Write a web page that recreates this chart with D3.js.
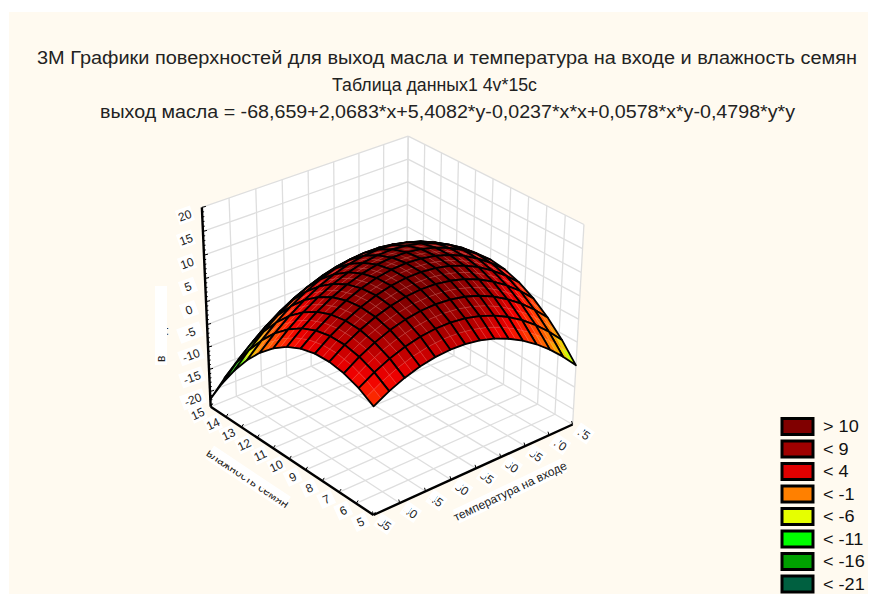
<!DOCTYPE html>
<html>
<head>
<meta charset="utf-8">
<script src="https://cdn.jsdelivr.net/npm/d3@7"></script>
<style>
body { margin: 0; background: #fff; }
text { font-family: "Liberation Sans", Arial, sans-serif; }
</style>
</head>
<body>
<div id="chart"></div>
<script>
var width = 870, height = 594;
var titleLines = ["3М Графики поверхностей для выход масла и температура на входе и влажность семян",
    "Таблица данных1 4v*15c",
    "выход масла = -68,659+2,0683*x+5,4082*y-0,0237*x*x+0,0578*x*y-0,4798*y*y"];
var titleWidths = [820, 205, 695];
var titleCenters = [447, 434.5, 447.5];
var tempTicks = [35, 40, 45, 50, 55, 60, 65, 70, 75];
var humTicks = [5, 6, 7, 8, 9, 10, 11, 12, 13, 14, 15];
var zTicks = [-20, -15, -10, -5, 0, 5, 10, 15, 20];
var legendLabels = ["> 10", "< 9", "< 4", "< -1", "< -6", "< -11", "< -16", "< -21"];
var legendColors = ["#800000", "#a00000", "#e00000", "#ff8000", "#e6ff00", "#00ff00", "#00a000", "#006040"];
// colours as they read on the surface itself
var surfaceLevels = [11, 7, 3, 0, -4, -8, -11, -16, -21];
var surfaceColors = ["#7c0000", "#a80000", "#f00000", "#ff3500", "#ff8000", "#e6ff00", "#00ff00", "#00a000", "#006040"];

// surface nodes: one row per humidity value, one column per temperature value
var tempGrid = [35, 37.86, 40.71, 43.57, 46.43, 49.29, 52.14, 55, 57.86, 60.71, 63.57, 66.43, 69.29, 72.14, 75];
var humGrid = [5, 5.83, 6.67, 7.5, 8.33, 9.17, 10, 10.83, 11.67, 12.5, 13.33, 14.17, 15];
var oilYield = [
    [-0.14, 1.67, 3.07, 4.11, 4.75, 5.00, 4.87, 4.35, 3.44, 2.15, 0.47, -1.61, -4.06, -6.90, -10.13],
    [1.72, 3.67, 5.21, 6.38, 7.16, 7.55, 7.55, 7.17, 6.40, 5.25, 3.71, 1.77, -0.55, -3.25, -6.34],
    [2.92, 5.00, 6.68, 7.99, 8.90, 9.43, 9.57, 9.33, 8.70, 7.68, 6.28, 4.48, 2.30, -0.26, -3.22],
    [3.44, 5.67, 7.48, 8.93, 9.98, 10.65, 10.93, 10.82, 10.33, 9.45, 8.18, 6.52, 4.48, 2.06, -0.77],
    [3.31, 5.67, 7.62, 9.21, 10.40, 11.20, 11.61, 11.65, 11.29, 10.55, 9.42, 7.90, 5.99, 3.71, 1.02],
    [2.50, 5.00, 7.09, 8.82, 10.14, 11.08, 11.63, 11.80, 11.59, 10.98, 9.99, 8.61, 6.84, 4.69, 2.14],
    [1.03, 3.67, 5.90, 7.76, 9.22, 10.30, 10.99, 11.30, 11.22, 10.75, 9.90, 8.65, 7.02, 5.01, 2.60],
    [-1.11, 1.67, 4.03, 6.03, 7.63, 8.85, 9.68, 10.12, 10.18, 9.85, 9.14, 8.03, 6.53, 4.66, 2.39],
    [-3.91, -1.00, 1.51, 3.64, 5.38, 6.74, 7.70, 8.28, 8.48, 8.28, 7.71, 6.74, 5.38, 3.65, 1.51],
    [-7.38, -4.33, -1.69, 0.59, 2.46, 3.95, 5.05, 5.78, 6.11, 6.05, 5.62, 4.78, 3.56, 1.97, -0.03],
    [-11.51, -8.33, -5.55, -3.14, -1.13, 0.51, 1.74, 2.60, 3.08, 3.15, 2.86, 2.16, 1.08, -0.38, -2.24],
    [-16.32, -12.99, -10.08, -7.53, -5.38, -3.61, -2.23, -1.24, -0.62, -0.41, -0.57, -1.13, -2.08, -3.39, -5.12],
    [-21.79, -18.32, -15.27, -12.58, -10.30, -8.39, -6.88, -5.74, -4.99, -4.64, -4.66, -5.08, -5.89, -7.07, -8.66]
];

var xMin = 35, xMax = 75, yMin = 5, yMax = 15, zMin = -23.5, zMax = 20;
var xScale = d3.scaleLinear().domain([xMin, xMax]).range([0, 1]);
var yScale = d3.scaleLinear().domain([yMin, yMax]).range([0, 1]);
var zScale = d3.scaleLinear().domain([zMin, zMax]).range([0, 1]);
var colorScale = d3.scaleLinear().domain(surfaceLevels).range(surfaceColors).clamp(true);

// box corners on screen, used to calibrate the camera
var calib = [[0,0,0,373,515],[1,0,0,573,424],[0,1,0,211,407],[1,1,0,406,328],[0,1,1,202,207],[1,0,1,584,225],[1,1,1,408,136]];

function solve(A, b) {
    var n = b.length, M = A.map((r, i) => r.concat(b[i]));
    for (var c = 0; c < n; c++) {
        var p = c;
        for (var r = c + 1; r < n; r++) if (Math.abs(M[r][c]) > Math.abs(M[p][c])) p = r;
        var t = M[c]; M[c] = M[p]; M[p] = t;
        for (r = 0; r < n; r++) if (r != c) {
            var f = M[r][c] / M[c][c];
            for (var k = c; k <= n; k++) M[r][k] -= f * M[c][k];
        }
    }
    return M.map((r, i) => r[n] / r[i]);
}
// least squares fit of the 11 projection terms
var rows = [], rhs = [];
calib.forEach(function(c) {
    var u = c[0], v = c[1], w = c[2], sx = c[3], sy = c[4];
    rows.push([u, v, w, 1, 0, 0, 0, 0, -sx*u, -sx*v, -sx*w]); rhs.push(sx);
    rows.push([0, 0, 0, 0, u, v, w, 1, -sy*u, -sy*v, -sy*w]); rhs.push(sy);
});
var ata = d3.range(11).map(i => d3.range(11).map(j => d3.sum(rows, r => r[i] * r[j])));
var atb = d3.range(11).map(i => d3.sum(rows, (r, k) => r[i] * rhs[k]));
var P = solve(ata, atb);
function project(u, v, w) {
    var d = P[8]*u + P[9]*v + P[10]*w + 1;
    return [(P[0]*u + P[1]*v + P[2]*w + P[3]) / d, (P[4]*u + P[5]*v + P[6]*w + P[7]) / d];
}
function pt(x, y, z) { return project(xScale(x), yScale(y), zScale(z)); }
function poly(pts) { return "M" + pts.map(p => p.join(",")).join("L") + "Z"; }

var svg = d3.select("#chart").append("svg").attr("width", width).attr("height", height).style("display", "block");
svg.append("rect").attr("x", 9).attr("y", 12).attr("width", 859).attr("height", 582).attr("fill", "#fffaf0");

// titles
svg.selectAll(".title").data(titleLines).enter().append("text").attr("class", "title")
    .attr("x", (d, i) => titleCenters[i]).attr("y", (d, i) => 63.5 + i * 27)
    .attr("text-anchor", "middle").attr("font-size", 17.5).attr("fill", "#222")
    .attr("textLength", (d, i) => titleWidths[i]).attr("lengthAdjust", "spacingAndGlyphs")
    .text(d => d);

// walls and floor
var box = svg.append("g");
[[[xMin,yMax,zMin],[xMax,yMax,zMin],[xMax,yMax,zMax],[xMin,yMax,zMax]],
 [[xMax,yMin,zMin],[xMax,yMax,zMin],[xMax,yMax,zMax],[xMax,yMin,zMax]],
 [[xMin,yMin,zMin],[xMax,yMin,zMin],[xMax,yMax,zMin],[xMin,yMax,zMin]]].forEach(function(f) {
    box.append("path").attr("d", poly(f.map(p => pt(p[0], p[1], p[2])))).attr("fill", "#fff");
});
function gridLine(a, b) {
    var p = pt(a[0], a[1], a[2]), q = pt(b[0], b[1], b[2]);
    box.append("line").attr("x1", p[0]).attr("y1", p[1]).attr("x2", q[0]).attr("y2", q[1])
        .attr("stroke", "#dedede").attr("stroke-width", 1.3);
}
tempTicks.forEach(function(x) {
    gridLine([x,yMin,zMin],[x,yMax,zMin]);
    gridLine([x,yMax,zMin],[x,yMax,zMax]);
});
humTicks.forEach(function(y) {
    gridLine([xMin,y,zMin],[xMax,y,zMin]);
    gridLine([xMax,y,zMin],[xMax,y,zMax]);
});
zTicks.forEach(function(z) {
    gridLine([xMin,yMax,z],[xMax,yMax,z]);
    gridLine([xMax,yMin,z],[xMax,yMax,z]);
});

// surface, painted from the back corner to the front corner
var surf = svg.append("g");
function lerp(a, b, t) { return a + (b - a) * t; }
for (var j = humGrid.length - 2; j >= 0; j--) {
    for (var i = tempGrid.length - 2; i >= 0; i--) {
        drawCell(i, j);
    }
}
function drawCell(i, j) {
    var z00 = oilYield[j][i], z10 = oilYield[j][i+1], z01 = oilYield[j+1][i], z11 = oilYield[j+1][i+1];
    var x0 = tempGrid[i], x1 = tempGrid[i+1], y0 = humGrid[j], y1 = humGrid[j+1];
    var zAt = (s, t) => lerp(lerp(z00, z10, s), lerp(z01, z11, s), t);
    var P3 = (s, t) => pt(lerp(x0, x1, s), lerp(y0, y1, t), zAt(s, t));
    // each cell is split in four, the seams show as thin light lines
    [[0,0],[.5,0],[0,.5],[.5,.5]].forEach(function(o) {
        var s = o[0], t = o[1];
        var mean = (zAt(s,t) + zAt(s+.5,t) + zAt(s,t+.5) + zAt(s+.5,t+.5)) / 4;
        var c = colorScale(mean);
        surf.append("path")
            .attr("d", poly([P3(s,t), P3(s+.5,t), P3(s+.5,t+.5), P3(s,t+.5)]))
            .attr("fill", c).attr("stroke", c).attr("stroke-width", 0.5);
    });
    [[[.5,0],[.5,1]],[[0,.5],[1,.5]]].forEach(function(m) {
        var a = P3(m[0][0], m[0][1]), b = P3(m[1][0], m[1][1]);
        surf.append("line").attr("x1", a[0]).attr("y1", a[1]).attr("x2", b[0]).attr("y2", b[1])
            .attr("stroke", "#ffb0a0").attr("stroke-width", 0.5).attr("stroke-opacity", 0.45);
    });
    surf.append("path")
        .attr("d", poly([P3(0,0), P3(1,0), P3(1,1), P3(0,1)]))
        .attr("fill", "none").attr("stroke", "#000").attr("stroke-width", 1.8).attr("stroke-linejoin", "round");
}

// axes
var axes = svg.append("g");
function axisLine(a, b, w) {
    axes.append("line").attr("x1", a[0]).attr("y1", a[1]).attr("x2", b[0]).attr("y2", b[1])
        .attr("stroke", "#000").attr("stroke-width", w);
}
axisLine(pt(xMin,yMax,zMin), pt(xMin,yMax,zMax), 2.4);
axisLine(pt(xMin,yMin,zMin), pt(xMin,yMax,zMin), 2.4);
axisLine(pt(xMin,yMin,zMin), pt(xMax,yMin,zMin), 2.4);
d3.range(-23, 21).forEach(function(z) {
    var p = pt(xMin,yMax,z);
    axisLine(p, [p[0] + (z % 5 == 0 ? 4 : 2), p[1] - (z % 5 == 0 ? 1 : 0.5)], 1);
});
humTicks.forEach(function(y) { var p = pt(xMin,y,zMin); axisLine(p, [p[0] + 2, p[1] - 3], 1); });
tempTicks.forEach(function(x) { var p = pt(x,yMin,zMin); axisLine(p, [p[0] - 1, p[1] - 3.5], 1); });

function label(txt, x, y, rot, size, bw, bh) {
    var g = svg.append("g").attr("transform", "translate(" + x + "," + y + ") rotate(" + rot + ")");
    g.append("rect").attr("x", -bw/2).attr("y", -bh/2).attr("width", bw).attr("height", bh).attr("fill", "#fff");
    g.append("text").attr("text-anchor", "middle").attr("y", size * 0.36)
        .attr("font-size", size).attr("fill", "#222").text(txt);
    return g;
}
zTicks.forEach(function(z) {
    var p = pt(xMin,yMax,z);
    label(z, p[0] - 17, p[1] + 8, -20, 12, z < 0 ? 24 : 16, 15);
});
humTicks.forEach(function(y) {
    var p = pt(xMin,y,zMin);
    label(y, p[0] - 13, p[1] + 7, -25, 12, 15, 15);
});
tempTicks.forEach(function(x) {
    var p = pt(x,yMin,zMin);
    var g = label(x, p[0] + 11, p[1] + 9, 35, 12, 17, 15);
    // the first digit is almost wiped out by the box of its neighbour
    g.append("rect").attr("x", -7).attr("y", -6).attr("width", 5.5).attr("height", 9).attr("fill", "#fff");
});

// axis titles
label("температура на входе", 510, 491, -25.4, 12, 120, 15);
var hum = label("влажность семян", 248, 478, 33.7, 12, 92, 15);
hum.append("rect").attr("x", -46).attr("y", -8).attr("width", 92).attr("height", 8).attr("fill", "#fff");
var zt = label("выход масла", 161, 326, -90, 12, 78, 12);
zt.append("rect").attr("x", -30).attr("y", -6).attr("width", 70).attr("height", 12).attr("fill", "#fff");

// legend
var legendY = d3.scalePoint().domain(legendLabels).range([426.5, 584]);
var legend = svg.selectAll(".leg").data(legendLabels).enter().append("g").attr("class", "leg")
    .attr("transform", d => "translate(0," + legendY(d) + ")");
legend.append("rect").attr("x", 782).attr("y", -8).attr("width", 31).attr("height", 16)
    .attr("fill", (d, i) => legendColors[i]).attr("stroke", "#000").attr("stroke-width", 3);
legend.append("text").attr("x", 823).attr("y", 5.5).attr("font-size", 16).attr("fill", "#111")
    .text(d => d)
    .attr("textLength", function() { return this.getComputedTextLength() * 1.13; })
    .attr("lengthAdjust", "spacingAndGlyphs");
</script>
</body>
</html>
